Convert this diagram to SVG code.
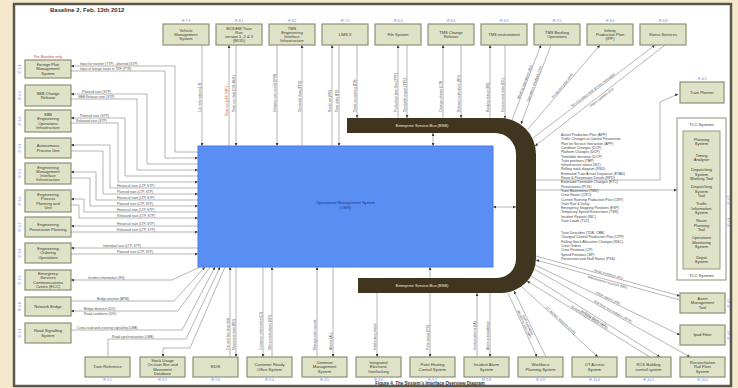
<svg xmlns="http://www.w3.org/2000/svg" width="738" height="388" viewBox="0 0 738 388">
<defs>
<style>
text{font-family:'Liberation Sans',Arial,sans-serif}
.nb{fill:#dee2c6;stroke:#8e9176;stroke-width:1.2}
.nt{font-size:4px;fill:#3a3a30;text-anchor:middle}
.id{font-size:3.4px;fill:#5b82d6;text-anchor:middle}
.c{fill:none;stroke:#858585;stroke-width:0.6}
.l{font-size:3.3px;fill:#555}
.lm{font-size:3.3px;fill:#555;text-anchor:middle}
.red{fill:#d0402a}
.bl{font-size:3.5px;fill:#444}
</style>
<marker id="ah" viewBox="0 0 6 6" refX="6" refY="3" markerWidth="3" markerHeight="3" markerUnits="userSpaceOnUse" orient="auto-start-reverse"><path d="M0,0L6,3L0,6z" fill="#3d3d3d"/></marker>
</defs>
<rect width="738" height="388" fill="#f6e8cc"/>
<rect x="14" y="4" width="717" height="382" fill="#ffffff" stroke="#58584e" stroke-width="2.5"/>
<text x="50" y="11.5" font-size="6" font-weight="bold" fill="#333">Baseline 2, Feb. 13th 2012</text>

<g id="connectors">
<path class="c" d="M202,45V146" marker-end="url(#ah)"/>
<path class="c" d="M229,45V146" marker-start="url(#ah)"/>
<path class="c" d="M236,45V146" marker-end="url(#ah)"/>
<path class="c" d="M277,45V146" marker-end="url(#ah)"/>
<path class="c" d="M302,45V146" marker-start="url(#ah)"/>
<path class="c" d="M332,45V146" marker-start="url(#ah)"/>
<path class="c" d="M339,45V146" marker-end="url(#ah)"/>
<path class="c" d="M357,45V118" marker-end="url(#ah)"/>
<path class="c" d="M398,45V118" marker-start="url(#ah)"/>
<path class="c" d="M407,45V118" marker-end="url(#ah)"/>
<path class="c" d="M443,45V118" marker-start="url(#ah)"/>
<path class="c" d="M461,45V118" marker-end="url(#ah)"/>
<path class="c" d="M490,45V118" marker-start="url(#ah)"/>
<path class="c" d="M505,45V118.5" marker-end="url(#ah)"/>
<path class="c" d="M541,45L512,120" marker-start="url(#ah)"/>
<path class="c" d="M551,45L521,124" marker-end="url(#ah)"/>
<path class="c" d="M600,45L528,129" marker-start="url(#ah)"/>
<path class="c" d="M655,45L533,138" marker-start="url(#ah)"/>
<path class="c" d="M665,45L535,146" marker-end="url(#ah)"/>
<text class="l" transform="translate(200.8,112) rotate(-90)">Car information (LT)</text>
<text class="l red" transform="translate(227.8,116) rotate(-90)">Train run (LTP, STP)</text>
<text class="l" transform="translate(234.8,112) rotate(-90)">Train run data (DO-2021)</text>
<text class="l" transform="translate(275.8,112) rotate(-90)">Infrastructure model (IFM)</text>
<text class="l" transform="translate(300.8,112) rotate(-90)">Timetable data (TTD)</text>
<text class="l" transform="translate(330.8,112) rotate(-90)">Route set (RS)</text>
<text class="l" transform="translate(337.8,112) rotate(-90)">Train data (TD)</text>
<text class="l" transform="translate(355.8,112) rotate(-90)">Track occupancy (TO)</text>
<text class="l" transform="translate(396.8,112) rotate(-90)">Production plan files (PPF)</text>
<text class="l" transform="translate(405.8,112) rotate(-90)">Timetable export (TTE)</text>
<text class="l" transform="translate(441.8,112) rotate(-90)">Change release (CR)</text>
<text class="l" transform="translate(459.8,112) rotate(-90)">Release notification (RN)</text>
<text class="l" transform="translate(488.8,112) rotate(-90)">Booking status (BS)</text>
<text class="l" transform="translate(503.8,112) rotate(-90)">Environment data (ED)</text>
<text class="lm" transform="translate(526.5,82.5) rotate(-68.9)" dy="-0.8">Booking operations (BO)</text>
<text class="lm" transform="translate(536,84.5) rotate(-69.2)" dy="-0.8">Operations feedback (OF)</text>
<text class="lm" transform="translate(564,87) rotate(-49.4)" dy="-0.8">Production plan (IPP)</text>
<text class="lm" transform="translate(594,91.5) rotate(-37.3)" dy="-0.8">Service status and service messages</text>
<text class="lm" transform="translate(600,95.5) rotate(-37.8)" dy="3.6">Status updates (SU)</text>

<path class="c" d="M433,133V146" marker-start="url(#ah)" marker-end="url(#ah)"/>
<path class="c" d="M493,207H516" marker-start="url(#ah)" marker-end="url(#ah)"/>
<path class="c" d="M536,180H660V102L678,94" marker-end="url(#ah)"/>
<path class="c" d="M536,190H677" marker-end="url(#ah)"/>

<path class="c" d="M71,66H175V152H198" marker-start="url(#ah)"/>
<path class="c" d="M71,71H165V158H198" marker-end="url(#ah)"/>
<path class="c" d="M71,94H147V164H198" marker-start="url(#ah)"/>
<path class="c" d="M71,99H137V170H198" marker-end="url(#ah)"/>
<path class="c" d="M71,118H125V176H198" marker-start="url(#ah)"/>
<path class="c" d="M71,123H118V182H198" marker-end="url(#ah)"/>
<path class="c" d="M71,145H110V188H198" marker-start="url(#ah)"/>
<path class="c" d="M71,151H103V194H198" marker-end="url(#ah)"/>
<path class="c" d="M71,172H96V200H198" marker-start="url(#ah)"/>
<path class="c" d="M71,178H90V206H198" marker-end="url(#ah)"/>
<path class="c" d="M71,199H84V212H198" marker-start="url(#ah)"/>
<path class="c" d="M71,205H79V218H198" marker-end="url(#ah)"/>
<path class="c" d="M71,226H198" marker-start="url(#ah)"/>
<path class="c" d="M71,232H198" marker-end="url(#ah)"/>
<path class="c" d="M71,248H198" marker-start="url(#ah)"/>
<path class="c" d="M71,254H198" marker-end="url(#ah)"/>
<text class="l" x="80" y="65">Input for transfer (TTP) - planned (STP)</text>
<text class="l" x="80" y="70">Input of foreign trains in TRF (PTR)</text>
<text class="l" x="82" y="93">Planned train (STP)</text>
<text class="l" x="78" y="98">SBB Release train (STP)</text>
<text class="l" x="80" y="117">Planned train (STP)</text>
<text class="l" x="76" y="122">Released train (STP)</text>
<text class="l" x="117" y="187">Historical train (LTP, STP)</text>
<text class="l" x="117" y="193">Planned train (LTP, STP)</text>
<text class="l" x="117" y="199">Historical train (LTP, STP)</text>
<text class="l" x="117" y="205">Planned train (LTP, STP)</text>
<text class="l" x="117" y="211">Historical train (LTP, STP)</text>
<text class="l" x="117" y="217">Released train (LTP, STP)</text>
<text class="l" x="117" y="225">Historical train (LTP, STP)</text>
<text class="l" x="117" y="231">Released train (LTP, STP)</text>
<text class="l" x="103" y="247">Individual train (LTP, STP)</text>
<text class="l" x="117" y="253">Planned train (LTP, STP)</text>

<path class="c" d="M71,280H172L200,267" marker-start="url(#ah)"/>
<path class="c" d="M71,301H174L205,267" marker-end="url(#ah)"/>
<path class="c" d="M71,311H178L210,267" marker-start="url(#ah)"/>
<path class="c" d="M71,330H182L215,267" marker-end="url(#ah)"/>
<path class="c" d="M108,357V339H186L220,267" marker-end="url(#ah)"/>
<path class="c" d="M163,357V348H190L225,267" marker-start="url(#ah)"/>
<text class="l" x="88" y="279">Incident information (IF4)</text>
<text class="l" x="97" y="300">Bridge position (BPM)</text>
<text class="l" x="84" y="310">Bridge distance (DIV)</text>
<text class="l" x="84" y="315">Road conditions (DIV)</text>
<text class="l" x="77" y="329">Cross-road and crossing signalling (LMB)</text>
<text class="l" x="112" y="338">Road synchronization (LMB)</text>

<path class="c" d="M230,267V357" marker-start="url(#ah)"/>
<path class="c" d="M236,267V357" marker-end="url(#ah)"/>
<path class="c" d="M263,267V357" marker-end="url(#ah)"/>
<path class="c" d="M272,267V357" marker-start="url(#ah)"/>
<path class="c" d="M317,267V357" marker-start="url(#ah)"/>
<path class="c" d="M333,267V357" marker-end="url(#ah)"/>
<path class="c" d="M377,293V357" marker-end="url(#ah)"/>
<path class="c" d="M430,267V357" marker-start="url(#ah)" marker-end="url(#ah)"/>
<path class="c" d="M477,293V357" marker-start="url(#ah)"/>
<path class="c" d="M490,293V357" marker-end="url(#ah)"/>
<path class="c" d="M508,293L537,357" marker-end="url(#ah)"/>
<path class="c" d="M514,291L546,357" marker-start="url(#ah)"/>
<path class="c" d="M521,286L598,357" marker-end="url(#ah)"/>
<path class="c" d="M527,281L650,357" marker-start="url(#ah)"/>
<path class="c" d="M531,276L660,357" marker-end="url(#ah)"/>
<path class="c" d="M534,269L690,357" marker-end="url(#ah)"/>
<path class="c" d="M536,256L680,296" marker-end="url(#ah)"/>
<path class="c" d="M536,260L680,300" marker-start="url(#ah)"/>
<path class="c" d="M535,265L680,335" marker-end="url(#ah)"/>
<text class="l" transform="translate(228.8,350) rotate(-90)">Car and bus stop data</text>
<text class="l" transform="translate(234.8,350) rotate(-90)">Movement data (MD)</text>
<text class="l" transform="translate(261.8,350) rotate(-90)">Customer information (CI)</text>
<text class="l" transform="translate(270.8,350) rotate(-90)">Office notifications (ON)</text>
<text class="l" transform="translate(315.8,350) rotate(-90)">Management reports</text>
<text class="l" transform="translate(331.8,350) rotate(-90)">Alarms (AL)</text>
<text class="l" transform="translate(375.8,350) rotate(-90)">Interlocking status</text>
<text class="l" transform="translate(428.8,350) rotate(-90)">Point status (PS)</text>
<text class="l" transform="translate(475.8,350) rotate(-90)">Incident alarms (IA)</text>
<text class="l" transform="translate(488.8,350) rotate(-90)">Alarm acknowledge</text>
<text class="lm" transform="translate(522.5,325) rotate(65.6)" dy="-0.8">Workforce plan (WP)</text>
<text class="lm" transform="translate(530,324) rotate(64.1)" dy="3.4">Staff availability</text>
<text class="lm" transform="translate(559.5,321.5) rotate(42.7)" dy="-0.8">OT access requests (OTA)</text>
<text class="lm" transform="translate(588.5,319) rotate(31.7)" dy="-0.8">Building control status (BCS)</text>
<text class="lm" transform="translate(595.5,316.5) rotate(32.1)" dy="3.4">Building alarms (BA)</text>
<text class="lm" transform="translate(612,313) rotate(29.4)" dy="-0.8">Rail fleet reconciliation (RFR)</text>
<text class="lm" transform="translate(608,276) rotate(15.5)" dy="-0.8">Asset condition (AC)</text>
<text class="lm" transform="translate(608,280) rotate(15.5)" dy="3.4">Maintenance requests (MR)</text>
<text class="lm" transform="translate(607.5,300) rotate(25.8)" dy="-0.8">Fitter reports (FR)</text>

<text class="bl" x="561" y="136">Actual Production Plan (APP)</text>
<text class="bl" x="561" y="140.3">Traffic Changes to Control Possession</text>
<text class="bl" x="561" y="144.6">Plan for Service Interaction (APP)</text>
<text class="bl" x="561" y="148.9">Condition Changes (DCP)</text>
<text class="bl" x="561" y="153.2">Platform Changes (DCP)</text>
<text class="bl" x="561" y="157.5">Timetable deviation (DCP)</text>
<text class="bl" x="561" y="161.8">Train positions (TBP)</text>
<text class="bl" x="561" y="166.1">Infrastructure status (IST)</text>
<text class="bl" x="561" y="170.4">Rolling stock diagram (RSD)</text>
<text class="bl" x="561" y="174.7">Estimated Train Arrival Departure (ETAD)</text>
<text class="bl" x="561" y="179">Route &amp; Possession Details (RPD)</text>
<text class="bl" x="561" y="183.3">Estimated Timetable Changes (ETC)</text>
<text class="bl" x="561" y="187.6">Possessions (POS)</text>
<text class="bl" x="561" y="191.9">Train Movements (TMV)</text>
<text class="bl" x="561" y="196.2">Crew Roster (CRO)</text>
<text class="bl" x="561" y="200.5">Current Running Production Plan (CRP)</text>
<text class="bl" x="561" y="204.8">Train Run &amp; Delay</text>
<text class="bl" x="561" y="209.1">Emergency Stopping Positions (ESP)</text>
<text class="bl" x="561" y="213.4">Temporary Speed Restrictions (TSR)</text>
<text class="bl" x="561" y="217.7">Incident Reports (INC)</text>
<text class="bl" x="561" y="222">Train Loads (TLD)</text>
<text class="bl" x="561" y="234">Train Describer (TDB, CBB)</text>
<text class="bl" x="561" y="238.3">Changed Control Production Plan (CPP)</text>
<text class="bl" x="561" y="242.6">Rolling Stock Allocation Changes (RSC)</text>
<text class="bl" x="561" y="246.9">Crew Orders</text>
<text class="bl" x="561" y="251.2">Crew Positions (CP)</text>
<text class="bl" x="561" y="255.5">Speed Positions (SP)</text>
<text class="bl" x="561" y="259.8">Possession and Staff Status (PSS)</text>
</g>

<g id="oms">
<rect x="198" y="146" width="295" height="121" fill="#5b8ef2" stroke="#4a7ce4" stroke-width="1"/>
<text x="345.5" y="204" font-size="4" fill="#1a3a8a" text-anchor="middle">Operational Management System</text>
<text x="345.5" y="208.6" font-size="4" fill="#1a3a8a" text-anchor="middle">(OMS)</text>
</g>
<g id="esb">
<path d="M347,118H500A36,36 0 0 1 536,154V258A35,35 0 0 1 501,293H358V278H497A19,19 0 0 0 516,259V154A21,21 0 0 0 495,133H347Z" fill="#40361f"/>
<text x="422" y="127.4" font-size="4" fill="#f2eee0" text-anchor="middle">Enterprise Service Bus (ESB)</text>
<text x="422" y="287.4" font-size="4" fill="#f2eee0" text-anchor="middle">Enterprise Service Bus (ESB)</text>
</g>

<g id="t1"><text class="id" x="186" y="21.5">IF-7.9</text><rect class="nb" x="163" y="24" width="46" height="21"/><text class="nt" x="186" y="31.5">Vehicle</text><text class="nt" x="186" y="35.9">Management</text><text class="nt" x="186" y="40.3">System</text></g>
<g id="t2"><text class="id" x="239" y="21.5">IF-8.1</text><rect class="nb" x="216" y="24" width="46" height="21"/><text class="nt" x="239" y="29.6">MODEM Train</text><text class="nt" x="239" y="33.8">Run</text><text class="nt" x="239" y="38">version 1, 2 &amp; 3</text><text class="nt" x="239" y="42.2">(MOD)</text></g>
<g id="t3"><text class="id" x="292" y="21.5">IF-8.2</text><rect class="nb" x="269" y="24" width="46" height="21"/><text class="nt" x="292" y="29.6">TMS</text><text class="nt" x="292" y="33.8">Engineering</text><text class="nt" x="292" y="38">Interface</text><text class="nt" x="292" y="42.2">Infrastructure</text></g>
<g id="t4"><text class="id" x="345" y="21.5">IF-7.5</text><rect class="nb" x="322" y="24" width="46" height="21"/><text class="nt" x="345" y="35.9">LIMS II</text></g>
<g id="t5"><text class="id" x="398" y="21.5">IF-6.3</text><rect class="nb" x="375" y="24" width="46" height="21"/><text class="nt" x="398" y="35.9">File System</text></g>
<g id="t6"><text class="id" x="451" y="21.5">IF-6.6</text><rect class="nb" x="428" y="24" width="46" height="21"/><text class="nt" x="451" y="33.7">TMS Change</text><text class="nt" x="451" y="38.1">Release</text></g>
<g id="t7"><text class="id" x="504" y="21.5">IF-6.9</text><rect class="nb" x="481" y="24" width="46" height="21"/><text class="nt" x="504" y="35.9">TMS environment</text></g>
<g id="t8"><text class="id" x="557" y="21.5">IF-7.0</text><rect class="nb" x="534" y="24" width="46" height="21"/><text class="nt" x="557" y="33.7">TMS Booking</text><text class="nt" x="557" y="38.1">Operations</text></g>
<g id="t9"><text class="id" x="610" y="21.5">IF-6.4</text><rect class="nb" x="587" y="24" width="46" height="21"/><text class="nt" x="610" y="31.5">Infinity</text><text class="nt" x="610" y="35.9">Production Plan</text><text class="nt" x="610" y="40.3">(IPP)</text></g>
<g id="t10"><text class="id" x="663" y="21.5">IF-6.8</text><rect class="nb" x="640" y="24" width="46" height="21"/><text class="nt" x="663" y="35.9">Status Services</text></g>

<g id="l1"><text x="48" y="57.5" font-size="3.6" fill="#d0402a" text-anchor="middle">Pre-Baseline only</text><text class="id" transform="translate(21,69) rotate(-90)">IF-5.1</text><rect class="nb" x="25" y="60" width="46" height="18"/><text class="nt" x="48" y="66">Foreign Plan</text><text class="nt" x="48" y="70.4">Management</text><text class="nt" x="48" y="74.8">System</text></g>
<g id="l2"><text class="id" transform="translate(21,95.5) rotate(-90)">IF-5.2</text><rect class="nb" x="25" y="85" width="46" height="21"/><text class="nt" x="48" y="94.7">SBB Change</text><text class="nt" x="48" y="99.1">Release</text></g>
<g id="l3"><text class="id" transform="translate(21,121) rotate(-90)">IF-5.3</text><rect class="nb" x="25" y="110" width="46" height="22"/><text class="nt" x="48" y="116.1">SBB</text><text class="nt" x="48" y="120.3">Engineering</text><text class="nt" x="48" y="124.5">Operations</text><text class="nt" x="48" y="128.7">Infrastructure</text></g>
<g id="l4"><text class="id" transform="translate(21,148) rotate(-90)">IF-5.4</text><rect class="nb" x="25" y="138" width="46" height="20"/><text class="nt" x="48" y="147.2">Autonomous</text><text class="nt" x="48" y="151.6">Process Unit</text></g>
<g id="l5"><text class="id" transform="translate(21,173.5) rotate(-90)">IF-5.5</text><rect class="nb" x="25" y="163" width="46" height="21"/><text class="nt" x="48" y="168.6">Engineering</text><text class="nt" x="48" y="172.8">Management</text><text class="nt" x="48" y="177">Interface</text><text class="nt" x="48" y="181.2">Infrastructure</text></g>
<g id="l6"><text class="id" transform="translate(21,201) rotate(-90)">IF-5.6</text><rect class="nb" x="25" y="190" width="46" height="22"/><text class="nt" x="48" y="196.1">Engineering</text><text class="nt" x="48" y="200.3">Process</text><text class="nt" x="48" y="204.5">Planning and</text><text class="nt" x="48" y="208.7">Unit</text></g>
<g id="l7"><text class="id" transform="translate(21,227) rotate(-90)">IF-5.7</text><rect class="nb" x="25" y="217" width="46" height="20"/><text class="nt" x="48" y="226.2">Engineering</text><text class="nt" x="48" y="230.6">Possession Planning</text></g>
<g id="l8"><text class="id" transform="translate(21,253) rotate(-90)">IF-5.8</text><rect class="nb" x="25" y="243" width="46" height="20"/><text class="nt" x="48" y="250">Engineering</text><text class="nt" x="48" y="254.4">Ordering</text><text class="nt" x="48" y="258.8">Operations</text></g>
<g id="l9"><text class="id" transform="translate(21,280) rotate(-90)">IF-5.9</text><rect class="nb" x="25" y="270" width="46" height="20"/><text class="nt" x="48" y="275.1">Emergency</text><text class="nt" x="48" y="279.3">Services</text><text class="nt" x="48" y="283.5">Communications</text><text class="nt" x="48" y="287.7">Centre (ECC)</text></g>
<g id="l10"><text class="id" transform="translate(21,306.5) rotate(-90)">IF-6.0</text><rect class="nb" x="25" y="297" width="46" height="19"/><text class="nt" x="48" y="307.9">Network Bridge</text></g>
<g id="l11"><text class="id" transform="translate(21,333) rotate(-90)">IF-6.1</text><rect class="nb" x="25" y="323" width="46" height="20"/><text class="nt" x="48" y="332.2">Road Signalling</text><text class="nt" x="48" y="336.6">System</text></g>

<g id="b1"><rect class="nb" x="85" y="357" width="45" height="20"/><text class="nt" x="107.5" y="368.4">Train Reference</text><text class="id" x="107.5" y="381">IF-9.1</text></g>
<g id="b2"><rect class="nb" x="140" y="357" width="45" height="20"/><text class="nt" x="162.5" y="362.1">Stock Usage</text><text class="nt" x="162.5" y="366.3">On-train Bus and</text><text class="nt" x="162.5" y="370.5">Movement</text><text class="nt" x="162.5" y="374.7">Database</text><text class="id" x="162.5" y="381">IF-9.2</text></g>
<g id="b3"><rect class="nb" x="193" y="357" width="45" height="20"/><text class="nt" x="215.5" y="368.4">EDIS</text><text class="id" x="215.5" y="381">IF-9.3</text></g>
<g id="b4"><rect class="nb" x="247" y="357" width="45" height="20"/><text class="nt" x="269.5" y="366.2">Customer Ready</text><text class="nt" x="269.5" y="370.6">Office System</text><text class="id" x="269.5" y="381">IF-9.4</text></g>
<g id="b5"><rect class="nb" x="302" y="357" width="45" height="20"/><text class="nt" x="324.5" y="364">Common</text><text class="nt" x="324.5" y="368.4">Management</text><text class="nt" x="324.5" y="372.8">System</text><text class="id" x="324.5" y="381">IF-9.5</text></g>
<g id="b6"><rect class="nb" x="356" y="357" width="45" height="20"/><text class="nt" x="378.5" y="364">Integrated</text><text class="nt" x="378.5" y="368.4">Electronic</text><text class="nt" x="378.5" y="372.8">Interlocking</text><text class="id" x="378.5" y="381">IF-9.6</text></g>
<g id="b7"><rect class="nb" x="410" y="357" width="45" height="20"/><text class="nt" x="432.5" y="366.2">Point Heating</text><text class="nt" x="432.5" y="370.6">Control System</text><text class="id" x="432.5" y="381">IF-9.7</text></g>
<g id="b8"><rect class="nb" x="464" y="357" width="45" height="20"/><text class="nt" x="486.5" y="366.2">Incident Alarm</text><text class="nt" x="486.5" y="370.6">System</text><text class="id" x="486.5" y="381">IF-9.8</text></g>
<g id="b9"><rect class="nb" x="518" y="357" width="45" height="20"/><text class="nt" x="540.5" y="366.2">Workforce</text><text class="nt" x="540.5" y="370.6">Planning System</text><text class="id" x="540.5" y="381">IF-9.9</text></g>
<g id="b10"><rect class="nb" x="572" y="357" width="45" height="20"/><text class="nt" x="594.5" y="366.2">OT Access</text><text class="nt" x="594.5" y="370.6">System</text><text class="id" x="594.5" y="381">IF-10.0</text></g>
<g id="b11"><rect class="nb" x="626" y="357" width="45" height="20"/><text class="nt" x="648.5" y="366.2">RCS Building</text><text class="nt" x="648.5" y="370.6">control system</text><text class="id" x="648.5" y="381">IF-10.1</text></g>
<g id="b12"><rect class="nb" x="680" y="357" width="45" height="20"/><text class="nt" x="702.5" y="364">Reconciliation</text><text class="nt" x="702.5" y="368.4">Rail Fleet</text><text class="nt" x="702.5" y="372.8">System</text><text class="id" x="702.5" y="381">IF-10.2</text></g>

<g id="r1"><text class="id" x="702" y="79.5">IF-4.2</text><rect class="nb" x="680" y="82" width="44" height="21"/><text class="nt" x="702" y="93.9">Train Planner</text></g>
<g id="tcc">
<rect x="677" y="118" width="49" height="162" fill="#ffffff" stroke="#9a9c86" stroke-width="1.1"/>
<text class="nt" x="701.5" y="125.5" font-size="3.8">TCC Systems</text>
<rect x="683" y="131" width="37" height="138" fill="#dee2c6" stroke="#8e9176" stroke-width="0.9"/>
<text class="nt" x="701.5" y="140.5">Planning</text><text class="nt" x="701.5" y="144.7">System</text>
<text class="nt" x="701.5" y="156.5">Timing</text><text class="nt" x="701.5" y="160.7">Analyser</text>
<text class="nt" x="701.5" y="171.4">Dispatching</text><text class="nt" x="701.5" y="175.6">System</text><text class="nt" x="701.5" y="179.8">Working Tool</text>
<text class="nt" x="701.5" y="188.4">Dispatching</text><text class="nt" x="701.5" y="192.6">System</text><text class="nt" x="701.5" y="196.8">Tool</text>
<text class="nt" x="701.5" y="205.4">Traffic</text><text class="nt" x="701.5" y="209.6">Information</text><text class="nt" x="701.5" y="213.8">System</text>
<text class="nt" x="701.5" y="222.4">Route</text><text class="nt" x="701.5" y="226.6">Planning</text><text class="nt" x="701.5" y="230.8">Tool</text>
<text class="nt" x="701.5" y="239.4">Operations</text><text class="nt" x="701.5" y="243.6">Monitoring</text><text class="nt" x="701.5" y="247.8">System</text>
<text class="nt" x="701.5" y="258.5">Depot</text><text class="nt" x="701.5" y="262.7">System</text>
<text class="nt" x="701.5" y="276.5" font-size="3.8">TCC Systems</text>
<text class="id" transform="translate(729.5,200) rotate(-90)">IF-4.3</text>
<text class="id" transform="translate(729.5,222) rotate(-90)">IF-4.4</text>
</g>
<g id="r2"><rect class="nb" x="680" y="293" width="45" height="20"/><text class="nt" x="702.5" y="300">Asset</text><text class="nt" x="702.5" y="304.4">Management</text><text class="nt" x="702.5" y="308.8">Tool</text><text class="id" transform="translate(729.5,303) rotate(-90)">IF-4.5</text></g>
<g id="r3"><rect class="nb" x="680" y="325" width="45" height="20"/><text class="nt" x="702.5" y="336.4">Ipad Fitter</text><text class="id" transform="translate(729.5,335) rotate(-90)">IF-4.6</text></g>

<text x="430" y="385" font-size="4.5" font-weight="bold" fill="#333" text-anchor="middle">Figure 4. The System's Interface Overview Diagram</text>
</svg>
